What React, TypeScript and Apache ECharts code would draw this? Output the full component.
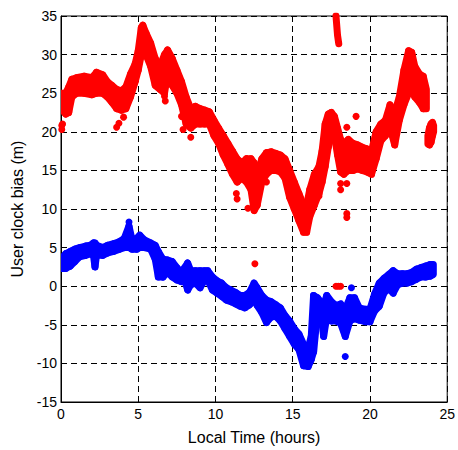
import React, { useEffect, useRef } from "react";
import * as echarts from "echarts";

// Red series (envelope of the dense trace): time, lower edge, upper edge
const RED_T = [0.0, 0.3, 0.5, 0.7, 1.0, 1.5, 2.0, 2.3, 2.7, 3.0, 3.3, 3.6, 3.9, 4.2, 4.5, 4.8, 5.0, 5.2, 5.3, 5.5, 5.8, 6.1, 6.4, 6.7, 6.9, 7.2, 7.5, 7.8, 8.1, 8.4, 8.7, 9.0, 9.3, 9.6, 9.9, 10.2, 10.5, 10.8, 11.1, 11.4, 11.7, 12.0, 12.3, 12.5, 12.7, 13.0, 13.3, 13.6, 13.9, 14.2, 14.5, 14.8, 15.1, 15.4, 15.7, 15.9, 16.1, 16.4, 16.7, 16.9, 17.1, 17.3, 17.5, 17.7, 17.9, 18.1, 18.3, 18.6, 18.9, 19.2, 19.5, 19.8, 20.1, 20.4, 20.7, 21.0, 21.3, 21.6, 21.9, 22.2, 22.5, 22.7, 22.9, 23.2, 23.45, 23.65];
const RED_LO = [23.0, 22.3, 22.5, 24.5, 25.0, 25.0, 24.8, 25.0, 25.0, 24.5, 23.8, 23.0, 22.8, 23.0, 24.5, 26.5, 28.0, 30.0, 30.5, 30.0, 28.5, 26.0, 25.5, 25.0, 27.5, 26.0, 25.0, 23.5, 21.0, 20.5, 21.0, 21.0, 21.0, 21.0, 19.5, 18.5, 17.0, 15.8, 14.5, 13.5, 14.0, 13.5, 12.5, 9.8, 10.5, 13.5, 14.5, 15.0, 15.0, 14.8, 14.0, 11.5, 10.0, 8.5, 7.0, 7.0, 9.0, 10.5, 12.0, 13.5, 15.5, 18.0, 19.5, 19.5, 17.0, 14.8, 14.5, 15.0, 15.0, 15.2, 15.0, 14.8, 14.5, 16.5, 18.8, 19.5, 20.5, 18.3, 21.5, 23.5, 25.0, 25.5, 24.5, 23.8, 23.0, 23.0];
const RED_HI = [25.0, 25.0, 25.8, 26.8, 27.0, 27.2, 27.0, 27.7, 27.4, 26.5, 26.0, 25.5, 25.3, 25.8, 27.5, 28.8, 30.5, 33.5, 33.8, 32.8, 31.5, 29.5, 28.5, 30.0, 30.6, 29.5, 28.0, 26.5, 24.5, 23.0, 23.3, 23.0, 22.8, 22.6, 21.5, 20.5, 19.5, 18.5, 17.5, 16.5, 16.0, 16.5, 16.5, 16.0, 14.5, 16.5, 17.3, 17.4, 17.2, 17.0, 16.5, 15.0, 13.5, 12.0, 10.5, 10.5, 12.5, 14.5, 15.5, 17.5, 21.0, 22.3, 22.5, 22.0, 20.5, 19.0, 18.5, 19.0, 18.5, 18.3, 18.0, 17.8, 17.5, 20.0, 21.0, 21.5, 23.5, 22.5, 24.5, 28.0, 30.5, 30.3, 28.5, 27.5, 27.2, 25.5];

// Red trailing cluster near 24 h
const RED_TAIL_T = [23.75, 23.85, 23.95, 24.05, 24.12];
const RED_TAIL_LO = [18.4, 18.3, 18.6, 19.5, 20.0];
const RED_TAIL_HI = [19.5, 20.5, 21.0, 21.2, 20.8];

// Red short streak at top of plot
const RED_STREAK = [[17.8, 35.0], [17.9, 32.5], [17.98, 31.4]];

// Red isolated points
const RED_DOTS = [[0.05, 20.3], [0.05, 20.8], [0.1, 21.0], [3.6, 20.6], [3.75, 21.1], [4.05, 21.9], [6.75, 24.0], [6.7, 24.6], [7.8, 22.0], [7.9, 20.3], [8.4, 19.3], [11.4, 11.3], [11.35, 12.0], [12.1, 10.1], [13.3, 13.5], [16.7, 11.7], [18.1, 13.3], [18.1, 12.5], [18.5, 13.3], [18.5, 8.9], [18.5, 9.4], [18.5, 20.6], [19.1, 22.0], [12.55, 2.9], [17.8, 0.0], [17.95, 0.0], [18.1, 0.0]];

// Blue series envelope
const BLUE_T = [0.0, 0.3, 0.6, 0.9, 1.2, 1.6, 1.9, 2.1, 2.2, 2.3, 2.7, 3.0, 3.4, 3.8, 4.1, 4.4, 4.6, 4.9, 5.1, 5.4, 5.8, 6.1, 6.3, 6.6, 6.9, 7.2, 7.5, 7.8, 8.0, 8.2, 8.4, 8.7, 9.0, 9.3, 9.5, 9.8, 10.1, 10.4, 10.7, 11.0, 11.3, 11.6, 11.9, 12.2, 12.5, 12.7, 13.0, 13.3, 13.6, 13.9, 14.2, 14.5, 14.8, 15.1, 15.4, 15.7, 16.0, 16.2, 16.35, 16.6, 16.9, 17.0, 17.2, 17.5, 17.8, 18.1, 18.4, 18.7, 19.0, 19.3, 19.7, 20.0, 20.3, 20.6, 20.9, 21.2, 21.5, 21.8, 22.1, 22.4, 22.7, 23.0, 23.3, 23.6, 23.9, 24.1];
const BLUE_LO = [2.3, 2.3, 2.6, 3.2, 3.8, 4.0, 4.2, 4.0, 2.5, 4.0, 4.0, 4.3, 4.5, 4.8, 5.0, 5.0, 4.8, 4.8, 5.0, 5.0, 4.8, 3.5, 1.2, 1.2, 1.8, 1.2, 0.8, 0.6, 0.8, -0.5, 0.2, 0.4, -0.2, 0.8, 0.8, -0.5, -0.9, -1.3, -1.8, -2.0, -2.3, -2.6, -2.8, -2.4, -1.8, -2.5, -3.4, -4.7, -4.0, -3.9, -4.5, -5.5, -6.5, -7.5, -8.2, -10.3, -10.4, -9.5, -8.5, -3.5, -4.8, -6.5, -4.0, -4.5, -4.5, -4.8, -6.5, -4.5, -4.2, -4.4, -4.6, -4.6, -3.2, -2.6, -0.9, -0.3, -0.9, 0.2, 0.4, 0.4, 0.6, 0.9, 1.2, 1.2, 1.3, 1.5];
const BLUE_HI = [3.5, 4.2, 4.5, 4.8, 5.0, 5.2, 5.3, 5.6, 5.6, 5.3, 5.0, 5.3, 5.5, 5.8, 6.2, 7.8, 6.0, 6.2, 6.6, 6.0, 5.6, 5.3, 4.5, 3.5, 3.4, 3.2, 2.4, 1.8, 2.4, 3.0, 2.0, 2.0, 2.0, 2.0, 2.0, 1.2, 0.7, 0.4, -0.2, -0.5, -0.8, -1.2, -1.2, -0.8, 0.4, -0.2, -1.2, -1.8, -2.0, -2.4, -2.8, -3.8, -4.5, -5.5, -6.2, -7.5, -8.0, -6.5, -1.2, -1.5, -2.2, -2.5, -1.2, -2.0, -2.5, -2.3, -3.0, -1.5, -1.5, -2.8, -3.0, -3.0, -1.0, 0.4, 1.0, 1.5, 2.0, 1.6, 1.6, 1.6, 1.8, 2.2, 2.4, 2.6, 2.8, 2.8];

// Blue isolated points
const BLUE_DOTS = [[18.4, -9.1], [18.8, -0.2], [4.4, 8.3]];

const X_TICKS = [0, 5, 10, 15, 20, 25];
const Y_TICKS = [-15, -10, -5, 0, 5, 10, 15, 20, 25, 30, 35];

const RED = "#ff0000";
const BLUE = "#0000ff";
const W = 7;

// one quad per consecutive pair of envelope samples
function band(T: number[], LO: number[], HI: number[], color: string, z: number) {
  const data: number[][] = [];
  for (let i = 0; i < T.length - 1; i++) {
    data.push([T[i], LO[i], HI[i], T[i + 1], LO[i + 1], HI[i + 1]]);
  }
  return {
    type: "custom",
    data,
    encode: { x: [0, 3], y: [1, 2, 4, 5] },
    z,
    silent: true,
    clip: true,
    renderItem: (params: any, api: any) => {
      const a = api.coord([api.value(0), api.value(2)]);
      const b = api.coord([api.value(3), api.value(5)]);
      const c = api.coord([api.value(3), api.value(4)]);
      const d = api.coord([api.value(0), api.value(1)]);
      return {
        type: "polygon",
        shape: { points: [a, b, c, d] },
        style: {
          fill: color,
          stroke: color,
          lineWidth: W,
          lineJoin: "round",
          lineCap: "round",
        },
      };
    },
  };
}

export default function App() {
  const ref = useRef<HTMLDivElement>(null);
  useEffect(() => {
    if (!ref.current) return;
    const chart = echarts.init(ref.current, undefined, { renderer: "svg" });
    const font = "Liberation Sans, Arial, sans-serif";
    chart.setOption({
      animation: false,
      backgroundColor: "#ffffff",
      grid: {
        left: 61,
        top: 16,
        width: 389,
        height: 389,
        show: true,
        borderColor: "#000",
        borderWidth: 1,
        backgroundColor: "#fff",
      },
      xAxis: {
        type: "value",
        min: X_TICKS[0],
        max: X_TICKS[X_TICKS.length - 1],
        interval: 5,
        name: "Local Time (hours)",
        nameLocation: "middle",
        nameGap: 27,
        nameTextStyle: { fontFamily: font, fontSize: 16, color: "#000" },
        axisLine: { show: true, onZero: false, lineStyle: { color: "#000", width: 1 } },
        axisTick: { show: false },
        axisLabel: { fontFamily: font, fontSize: 14, color: "#000", margin: 5 },
        splitLine: { show: true, lineStyle: { color: "#000", type: [6, 4], width: 1 } },
      },
      yAxis: {
        type: "value",
        min: Y_TICKS[0],
        max: Y_TICKS[Y_TICKS.length - 1],
        interval: 5,
        name: "User clock bias (m)",
        nameLocation: "middle",
        nameGap: 32,
        nameTextStyle: { fontFamily: font, fontSize: 16, color: "#000" },
        axisLine: { show: true, onZero: false, lineStyle: { color: "#000", width: 1 } },
        axisTick: { show: false },
        axisLabel: { fontFamily: font, fontSize: 14, color: "#000", margin: 4 },
        splitLine: { show: true, lineStyle: { color: "#000", type: [6, 4], width: 1 } },
      },
      series: [
        band(RED_T, RED_LO, RED_HI, RED, 2),
        band(RED_TAIL_T, RED_TAIL_LO, RED_TAIL_HI, RED, 2),
        {
          type: "line",
          data: RED_STREAK,
          symbol: "none",
          lineStyle: { color: RED, width: W, cap: "round", join: "round" },
          z: 2,
        },
        {
          type: "scatter",
          data: RED_DOTS,
          symbolSize: W,
          itemStyle: { color: RED, opacity: 1 },
          z: 2,
        },
        band(BLUE_T, BLUE_LO, BLUE_HI, BLUE, 3),
        {
          type: "scatter",
          data: BLUE_DOTS,
          symbolSize: W,
          itemStyle: { color: BLUE, opacity: 1 },
          z: 3,
        },
      ],
    });
    return () => chart.dispose();
  }, []);
  return (
    <div
      ref={ref}
      style={{ position: "fixed", left: 0, top: 0, width: 458, height: 450 }}
    />
  );
}
